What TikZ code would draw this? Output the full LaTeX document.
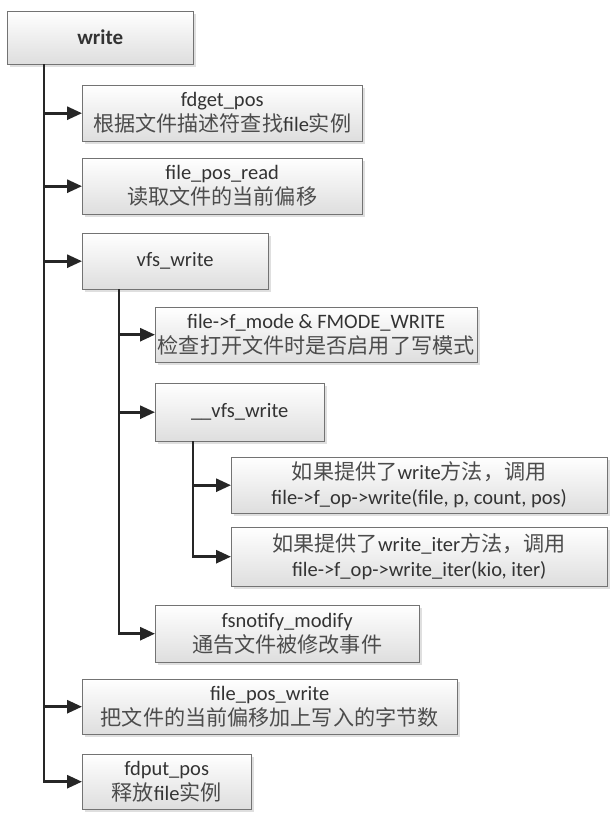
\documentclass[tikz,border=0pt]{standalone}
\usepackage{fontspec}
\setmainfont{Carlito}
\newfontfamily\cjkfont[Scale=1.03]{Noto Sans CJK SC}
\newcommand{\zhs}[1]{{\cjkfont\color{black!70}#1}}
\usetikzlibrary{calc, arrows.meta, shadows}

\tikzset{
    callbox/.style={draw=black!55, top color=white, bottom color=black!13,
        drop shadow={opacity=0.25, shadow xshift=2.5pt, shadow yshift=-2.5pt},
        anchor=north west, align=center, inner sep=0pt, text=black!80,
        font=\fontsize{20.5}{25}\selectfont},
    calllink/.style={draw=black!85, line width=2.8pt, -{Triangle[length=15pt,width=13pt]}},
}

\begin{document}
\begin{tikzpicture}[x=1pt, y=-1pt]
            \useasboundingbox (0,0) rectangle (612,818);
            % top level
            \node[callbox, minimum width=186pt, minimum height=53pt, font=\fontsize{21}{25}\selectfont\bfseries] (write) at (7,11) {write};
            \node[callbox, minimum width=280pt, minimum height=56pt] (fdget) at (82,85) {fdget\_pos\\\zhs{根据文件描述符查找}file\zhs{实例}};
            \node[callbox, minimum width=280pt, minimum height=56pt] (posread) at (82,158) {file\_pos\_read\\\zhs{读取文件的当前偏移}};
            \node[callbox, minimum width=186pt, minimum height=56pt] (vfswrite) at (82,233) {vfs\_write};
            % inside vfs_write
            \node[callbox, minimum width=322pt, minimum height=55pt] (fmode) at (155,307) {file->f\_mode \& FMODE\_WRITE\\\zhs{检查打开文件时是否启用了写模式}};
            \node[callbox, minimum width=169pt, minimum height=58pt] (innerwrite) at (155,383) {\_\_vfs\_write};
            \node[callbox, minimum width=376pt, minimum height=56pt] (opwrite) at (231,457) {\zhs{如果提供了}write\zhs{方法，调用}\\file->f\_op->write(file, p, count, pos)};
            \node[callbox, minimum width=376pt, minimum height=59pt] (opiter) at (231,527) {\zhs{如果提供了}write\_iter\zhs{方法，调用}\\file->f\_op->write\_iter(kio, iter)};
            \node[callbox, minimum width=264pt, minimum height=57pt] (notify) at (155,605) {fsnotify\_modify\\\zhs{通告文件被修改事件}};
            % back at top level
            \node[callbox, minimum width=375pt, minimum height=55pt] (poswrite) at (82,679) {file\_pos\_write\\\zhs{把文件的当前偏移加上写入的字节数}};
            \node[callbox, minimum width=169pt, minimum height=55pt] (fdput) at (82,754) {fdput\_pos\\\zhs{释放}file\zhs{实例}};

            \coordinate (trunk0) at ($(write.south west)+(37,0)$);
            \coordinate (trunk1) at ($(vfswrite.south west)+(37,0)$);
            \coordinate (trunk2) at ($(innerwrite.south west)+(38,0)$);
            \foreach \callee in {fdget, posread, vfswrite, poswrite, fdput}{
                \draw[calllink] (trunk0) |- (\callee.west);
            }
            \foreach \callee in {fmode, innerwrite, notify}{
                \draw[calllink] (trunk1) |- (\callee.west);
            }
            \foreach \callee in {opwrite, opiter}{
                \draw[calllink] (trunk2) |- (\callee.west);
            }
        \end{tikzpicture}
\end{document}
